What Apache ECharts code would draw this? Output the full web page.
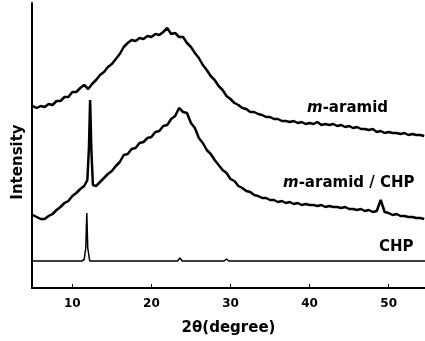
<!DOCTYPE html>
<html>
<head>
<meta charset="utf-8">
<script src="https://cdn.jsdelivr.net/npm/echarts@6/dist/echarts.min.js"></script>
<style>html,body{margin:0;padding:0;background:#fff}#c{width:425px;height:341px}</style>
</head>
<body>
<div id="c"></div>
<script>
// 2θ grid (degree) for the polymer scans
var aramidX = [5,5.5,6,6.5,7,7.5,8,8.5,9,9.5,10,10.5,11,11.5,12,12.5,13,13.5,14,14.5,15,15.5,16,16.5,17,17.5,18,18.5,19,19.5,20,20.5,21,21.5,22,22.5,23,23.5,24,24.5,25,25.5,26,26.5,27,27.5,28,28.5,29,29.5,30,30.5,31,31.5,32,32.5,33,33.5,34,34.5,35,35.5,36,36.5,37,37.5,38,38.5,39,39.5,40,40.5,41,41.5,42,42.5,43,43.5,44,44.5,45,45.5,46,46.5,47,47.5,48,48.5,49,49.5,50,50.5,51,51.5,52,52.5,53,53.5,54,54.5];
var aramidY = [182,180,182,181,184,183,187,187,191,191,196,196,200,203,199,204,208,213,216,221,224,229,234,241,245,248,247,250,249,252,251,254,253,256,260,254,255,251,251,245,241,235,230,223,218,212,208,202,198,192,189,185,183,180,179,176,176,174,173,171,171,169,169,167,167,166,167,165,166,164,165,164,166,163,164,163,164,162,163,161,162,160,161,159,159,158,159,156,157,155,156,155,155,154,155,153,154,153,153,152];

var blendX = [5,5.5,6,6.5,7,7.5,8,8.5,9,9.5,10,10.5,11,11.5,11.9,12.1,12.25,12.4,12.6,13,13.5,14,14.5,15,15.5,16,16.5,17,17.5,18,18.5,19,19.5,20,20.5,21,21.5,22,22.5,23,23.5,24,24.5,25,25.5,26,26.5,27,27.5,28,28.5,29,29.5,30,30.5,31,31.5,32,32.5,33,33.5,34,34.5,35,35.5,36,36.5,37,37.5,38,38.5,39,39.5,40,40.5,41,41.5,42,42.5,43,43.5,44,44.5,45,45.5,46,46.5,47,47.5,48,48.5,49,49.5,50,50.5,51,51.5,52,52.5,53,53.5,54,54.5];
var blendY = [73,71,69,69,72,74,78,81,85,87,92,95,99,102,108,140,188,140,103,102,106,110,114,117,122,126,133,134,139,140,145,146,150,151,156,157,162,163,169,172,180,176,175,165,160,150,145,138,134,128,123,118,115,109,107,102,100,97,96,93,92,90,90,88,88,86,87,85,86,84,85,83,84,83,83,82,83,81,82,81,81,80,81,79,79,78,79,77,78,76,77,88,76,75,73,74,72,72,71,71,70,70,69];

var chpX = [5,11.2,11.5,11.7,11.83,11.95,12.2,12.5,13,16,21.0,21.2,21.4,23.3,23.6,23.9,29.2,29.5,29.8,48.0,48.2,48.4,54.6];
var chpY = [27,27,28.5,40,75,40,27,27,27,27,27,28,27,27,30,27,27,29,27,27,28,27,27];

var tickValues = [10,20,30,40,50];
var seriesLabels = ['m-aramid', 'm-aramid / CHP', 'CHP'];

function pairs(xs, ys){ return xs.map(function(x,i){ return [x, ys[i]]; }); }

var chart = echarts.init(document.getElementById('c'), null, {renderer:'canvas'});
var FONT = 'DejaVu Sans';
function lbl(t){ return '{i|m}' + t.slice(1); }

chart.setOption({
  animation: false,
  backgroundColor: '#fff',
  grid: {left: 32, right: 0, top: 3, bottom: 53},
  xAxis: {
    type: 'value', min: 4.9, max: 54.6,
    axisLine: {show: true, lineStyle: {color: '#000', width: 2}},
    axisTick: {show: true, inside: true, length: 4, customValues: tickValues, lineStyle: {color: '#000', width: 1}},
    axisLabel: {customValues: tickValues, color: '#000', fontFamily: FONT, fontWeight: 'bold', fontSize: 12, margin: 10},
    splitLine: {show: false},
    name: '2θ(degree)', nameLocation: 'middle', nameGap: 33,
    nameTextStyle: {color: '#000', fontFamily: FONT, fontWeight: 'bold', fontSize: 15}
  },
  yAxis: {
    type: 'value', min: 0, max: 285,
    axisLine: {show: true, lineStyle: {color: '#000', width: 2}},
    axisTick: {show: false}, axisLabel: {show: false}, splitLine: {show: false}
  },
  graphic: [
    {type: 'text', x: 18, y: 162, rotation: Math.PI/2,
     style: {text: 'Intensity', fill: '#000', font: 'bold 15px "DejaVu Sans"', textAlign: 'center', textVerticalAlign: 'middle'}},
    {type: 'text', x: 307, y: 108,
     style: {text: lbl(seriesLabels[0]), fill: '#000', font: 'bold 15px "DejaVu Sans"', textVerticalAlign: 'middle',
       rich: {i: {fontStyle: 'italic', fontWeight: 'bold', fontSize: 15, fontFamily: FONT, fill: '#000'}}}},
    {type: 'text', x: 283, y: 183,
     style: {text: lbl(seriesLabels[1]), fill: '#000', font: 'bold 15px "DejaVu Sans"', textVerticalAlign: 'middle',
       rich: {i: {fontStyle: 'italic', fontWeight: 'bold', fontSize: 15, fontFamily: FONT, fill: '#000'}}}},
    {type: 'text', x: 379, y: 247,
     style: {text: seriesLabels[2], fill: '#000', font: 'bold 15px "DejaVu Sans"', textVerticalAlign: 'middle'}}
  ],
  series: [
    {name: seriesLabels[0], type: 'line', data: pairs(aramidX, aramidY), showSymbol: false, lineStyle: {color: '#000', width: 2.5}},
    {name: seriesLabels[1], type: 'line', data: pairs(blendX, blendY), showSymbol: false, lineStyle: {color: '#000', width: 2.5}},
    {name: seriesLabels[2], type: 'line', data: pairs(chpX, chpY), showSymbol: false, lineStyle: {color: '#000', width: 1.5}}
  ]
});
</script>
</body>
</html>
